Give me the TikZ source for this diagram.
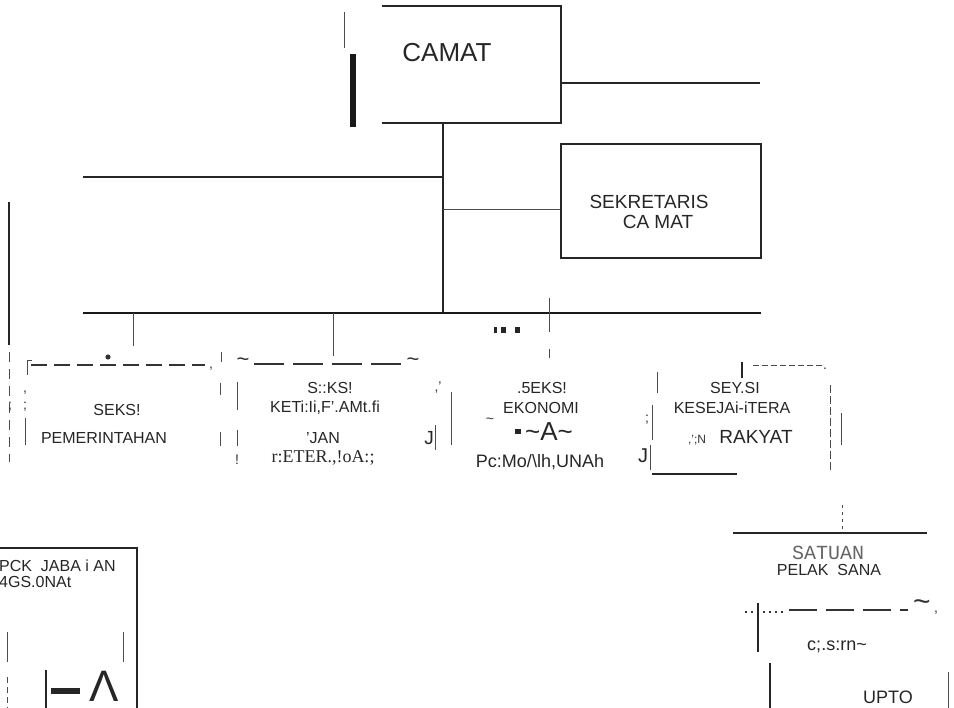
\documentclass[tikz,border=0pt]{standalone}
\usepackage{fontspec}
\setmainfont{Liberation Sans}
\newfontfamily\serifface{Liberation Serif}
\newfontfamily\monoface{Liberation Mono}
\begin{document}
\begin{tikzpicture}[x=1pt, y=-1pt,
    word/.style={inner sep=0pt, text=black!85, font=\fontsize{16}{19}\selectfont},
    chief/.style={word, font=\fontsize{26}{30}\selectfont},
    big/.style={word, font=\fontsize{19}{21}\selectfont},
    scrap/.style={inner sep=0pt, text=black!80, font=\fontsize{14}{16}\selectfont},
    office/.style={draw, line width=2pt, black!85, minimum width=200pt, minimum height=114pt, inner sep=0pt},
    seam/.style={line width=1.6pt, black!85},
    bar/.style={line width=2.6pt, black!90},
    hair/.style={line width=0.9pt, black!70},
    broken/.style={line width=2.4pt, black!80, dash pattern=on 16pt off 7pt}]
  \useasboundingbox (0,0) rectangle (954,708);

  % camat, the box is open on its left side
  \node[chief] (camat) at (447,53) {CAMAT};
  \coordinate (camat nw) at (382,6);
  \coordinate (camat se) at (561,123);
  \draw[seam] (camat nw) -| (camat se) -- (camat se -| camat nw);
  \draw[hair] (344,12) -- (344,48);
  \fill[black!90] (350,54) rectangle (356,127);
  \coordinate (camat e) at (561,83);
  \coordinate (camat far) at (760,83);
  \draw[seam] (camat e) -- (camat far);

  % trunk, wing and secretary
  \coordinate (trunk top) at (443,123);
  \coordinate (trunk wing) at (443,177);
  \coordinate (trunk sek) at (443,209);
  \coordinate (trunk foot) at (443,313);
  \coordinate (wing end) at (83,177);
  \draw[seam] (trunk top) -- (trunk foot);
  \draw[seam] (trunk wing) -- (wing end);
  \node[office] (sekcam) at (661,201) {};
  \node[big] (sek1) at (649,202) {SEKRETARIS};
  \node[big] (sek2) at (658,222) {CA MAT};
  \draw[hair] (trunk sek) -- (trunk sek -| sekcam.west);

  % main bar and the drops to the sections
  \coordinate (bar w) at (83,313);
  \coordinate (bar e) at (761,313);
  \draw[bar] (bar w) -- (bar e);
  \coordinate (pem top) at (133,346);
  \coordinate (keu top) at (333,356);
  \coordinate (eko top) at (549,332);
  \draw[hair] (pem top |- bar w) -- (pem top);
  \draw[hair] (keu top |- bar w) -- (keu top);
  \draw[hair] (549,298) -- (eko top);
  \draw[hair] (549,349) -- (549,358);
  \draw[seam] (9,202) -- (9,345);
  \draw[hair, dash pattern=on 10pt off 7pt] (9,352) -- (9,462);

  % seksi pemerintahan
  \draw[broken] (31,365) -- (205,365);
  \draw[hair] (27,375) -- (27,360) -- (32,360);
  \fill[black!80] (108,357) circle (2.6pt);
  \node[scrap] at (211,369) {,};
  \draw[hair] (221,352) -- (221,362);
  \draw[hair] (220,383) -- (220,395);
  \draw[hair] (220,432) -- (220,446);
  \node[scrap] at (25,393) {,};
  \node[scrap] at (25,407) {;};
  \node[scrap] at (10,407) {;};
  \draw[hair] (25,418) -- (25,445);
  \node[word] (pem1) at (117,410) {SEKS!};
  \node[word] (pem2) at (104,438) {PEMERINTAHAN};

  % seksi keuangan
  \node[scrap, font=\fontsize{22}{24}\selectfont] at (243,362) {\textasciitilde};
  \node[scrap, font=\fontsize{22}{24}\selectfont] at (413,362) {\textasciitilde};
  \draw[broken, dash pattern=on 30pt off 9pt] (254,364) -- (402,364);
  \draw[hair] (237,382) -- (237,410);
  \draw[hair] (237,430) -- (237,446);
  \node[scrap] at (237,460) {!};
  \node[word] (keu1) at (330,388) {S::KS!};
  \node[word] (keu2) at (325,408) {KETi:Ii,F'.AMt.fi};
  \node[word] (keu3) at (323,438) {'JAN};
  \node[word, font=\serifface\fontsize{18}{20}\selectfont] (keu4) at (323,458) {r:ETER.,!oA:;};
  \node[scrap] at (438,388) {,'};
  \node[word, font=\fontsize{19}{21}\selectfont] at (429,438) {J};
  \draw[hair] (435,425) -- (435,450);
  \draw[hair] (451,392) -- (451,445);

  % seksi ekonomi
  \fill[black!85] (494,327) rectangle (497,333);
  \fill[black!85] (501,327) rectangle (506,333);
  \fill[black!85] (515,327) rectangle (520,333);
  \node[word] (eko1) at (542,388) {.5EKS!};
  \node[word] (eko2) at (541,408) {EKONOMI};
  \node[scrap] at (490,421) {\textasciitilde};
  \fill[black!85] (515,429) rectangle (521,434);
  \node[word, font=\fontsize{26}{28}\selectfont] (eko3) at (549,432) {\textasciitilde A\textasciitilde};
  \node[word, font=\fontsize{18}{20}\selectfont] (eko4) at (540,462) {Pc:Mo/\textbackslash lh,UNAh};

  % seksi kesejahteraan rakyat
  \draw[seam] (742,362) -- (742,378);
  \draw[hair, dash pattern=on 6pt off 3pt] (753,365) -- (822,365);
  \node[scrap] at (825,369) {.};
  \draw[hair] (657,372) -- (657,393);
  \node[scrap] at (647,420) {;};
  \draw[hair] (652,405) -- (652,440);
  \node[word, font=\fontsize{20}{22}\selectfont] at (643,456) {J};
  \draw[hair] (650,445) -- (650,470);
  \draw[seam] (652,474) -- (737,474);
  \draw[hair, dash pattern=on 8pt off 3pt] (830,385) -- (830,470);
  \draw[hair] (841,413) -- (841,445);
  \node[word] (kes1) at (735,388) {SEY.SI};
  \node[word] (kes2) at (732,408) {KESEJAi-iTERA};
  \node[scrap, font=\fontsize{12}{14}\selectfont] (kes3a) at (697,440) {,';N};
  \node[big] (kes3) at (756,437) {RAKYAT};

  % kelompok jabatan fungsional
  \coordinate (kjf ne) at (137,548);
  \draw[seam] (0,548) -- (kjf ne) -- (137,708);
  \node[word, anchor=west] (kjf1) at (-1,566) {PCK\ \ JABA i AN};
  \node[word, anchor=west] (kjf2) at (-1,582) {4GS.0NAt};
  \draw[hair] (7,632) -- (7,662);
  \draw[hair] (123,632) -- (123,662);
  \draw[hair, dash pattern=on 6pt off 4pt] (7,677) -- (7,708);
  \draw[line width=1.4pt, black!85] (46,670) -- (46,708);
  \fill[black!85] (51,688) rectangle (80,694);
  \node[word, font=\fontsize{44}{48}\selectfont, anchor=base] (kjf3) at (104,701) {Λ};

  % satuan pelaksana and upt
  \draw[seam] (733,533) -- (927,533);
  \draw[hair, dash pattern=on 3pt off 4pt] (842,505) -- (842,530);
  \node[word, font=\monoface\fontsize{20}{22}\selectfont, text=black!60] (sat1) at (828,553) {SATUAN};
  \node[word] (sat2) at (829,570) {PELAK\ \ SANA};
  \draw[line width=1.6pt, black!80, dash pattern=on 2pt off 4pt] (745,612) -- (785,612);
  \draw[broken, dash pattern=on 28pt off 9pt] (789,610) -- (908,610);
  \node[scrap, font=\fontsize{30}{32}\selectfont] at (922,606) {\textasciitilde};
  \node[scrap] at (936,613) {,};
  \draw[seam] (758,603) -- (758,652);
  \node[word, font=\fontsize{18}{20}\selectfont] (sat3) at (837,647) {c;.s:rn\textasciitilde};
  \draw[seam] (770,663) -- (770,708);
  \draw[hair] (948,672) -- (948,708);
  \node[word, font=\fontsize{18}{20}\selectfont] (upto) at (888,697) {UPTO};
\end{tikzpicture}
\end{document}
